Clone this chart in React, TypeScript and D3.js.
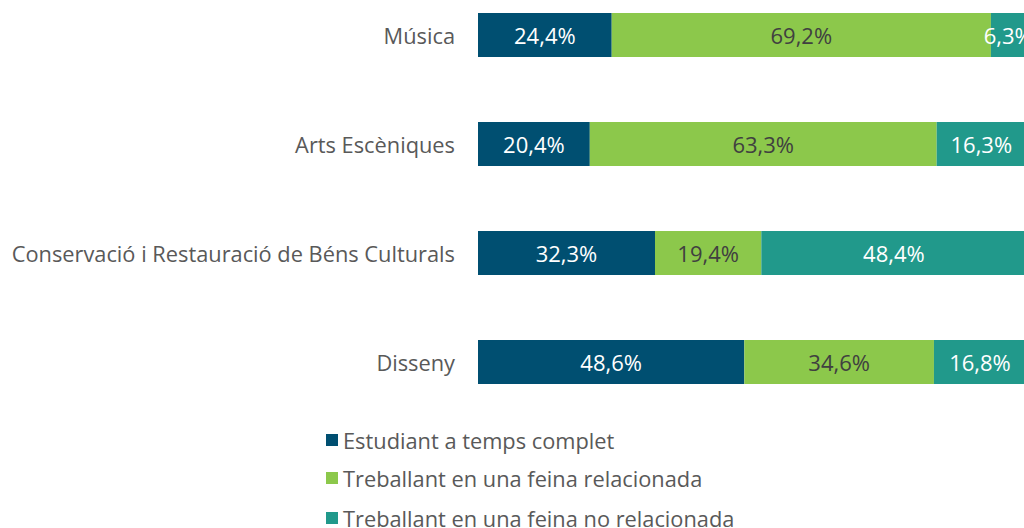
import React from "react";
import * as d3 from "d3";

const categories = ["Música", "Arts Escèniques", "Conservació i Restauració de Béns Culturals", "Disseny"];
const seriesNames = ["Estudiant a temps complet", "Treballant en una feina relacionada", "Treballant en una feina no relacionada"];
const estudiant = [24.4, 20.4, 32.3, 48.6];
const relacionada = [69.2, 63.3, 19.4, 34.6];
const noRelacionada = [6.3, 16.3, 48.4, 16.8];
const colors = ["#004F71", "#8CC84B", "#21998B"];
const textColors = ["#FFFFFF", "#404040", "#FFFFFF"];

const W = 1024;
const H = 528;
const FONT = "'Open Sans', 'Noto Sans', sans-serif";

export default function App() {
  const x = d3.scaleLinear().domain([0, 100]).range([478, 1026]);
  const y = d3.scalePoint<string>().domain(categories).range([35, 362]);
  const bh = 44;
  const series = [estudiant, relacionada, noRelacionada];
  const fmt = (v: number) => v.toFixed(1).replace(".", ",") + "%";
  const legendY = [440, 478, 518];

  return (
    <div style={{ position: "fixed", left: 0, top: 0 }}>
      <svg width={W} height={H} style={{ display: "block", background: "#fff" }} fontFamily={FONT}>
        {categories.map((c, i) => {
          let acc = 0;
          const cy = y(c) as number;
          const y0 = cy - bh / 2;
          return (
            <g key={c}>
              <text x={455} y={cy} textAnchor="end" dominantBaseline="central" fontSize={21.8} fill="#595959">
                {c}
              </text>
              {series.map((s, k) => {
                const start = acc;
                acc += s[i];
                const x0 = x(start);
                const x1 = x(acc);
                return (
                  <g key={k}>
                    <rect x={x0} y={y0} width={x1 - x0} height={bh} fill={colors[k]} />
                    <text x={(x0 + x1) / 2} y={cy} textAnchor="middle" dominantBaseline="central" fontSize={22} fill={textColors[k]}>
                      {fmt(s[i])}
                    </text>
                  </g>
                );
              })}
            </g>
          );
        })}
        {seriesNames.map((n, k) => (
          <g key={n}>
            <rect x={326} y={legendY[k] - 6} width={12} height={12} fill={colors[k]} />
            <text x={343} y={legendY[k]} dominantBaseline="central" fontSize={21.8} fill="#595959">
              {n}
            </text>
          </g>
        ))}
      </svg>
    </div>
  );
}
